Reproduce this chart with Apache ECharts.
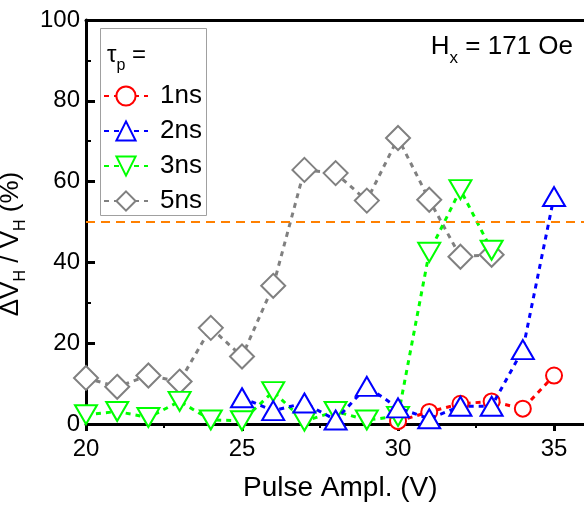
<!DOCTYPE html>
<html>
<head>
<meta charset="utf-8">
<script src="https://cdn.jsdelivr.net/npm/echarts@6/dist/echarts.min.js"></script>
<style>
  html, body { margin: 0; padding: 0; background: #fff; }
  #chart { width: 584px; height: 507px; }
</style>
</head>
<body>
<div id="chart"></div>
<script>
// data: [pulse amplitude (V), dV_H / V_H (%)]
const pulse1ns = [[30, 0.7], [31, 3], [32, 5], [33, 5.6], [34, 3.8], [35, 12]];
const pulse2ns = [[25, 6.5], [26, 3.3], [27, 5.2], [28, 1], [29, 9.3], [30, 4], [31, 1.3], [32, 4.4], [33, 4.4], [34, 18.4], [35, 56.3]];
const pulse3ns = [[20, 2.3], [21, 3.1], [22, 1.6], [23, 5.6], [24, 1], [25, 0.8], [26, 8], [27, 0.7], [28, 3.1], [29, 1], [30, 1.9], [31, 42.5], [32, 58], [33, 43]];
const pulse5ns = [[20, 11.4], [21, 9.2], [22, 12], [23, 10.5], [24, 23.8], [25, 16.7], [26, 34.2], [27, 62.9], [28, 62.1], [29, 55.3], [30, 70.8], [31, 55.5], [32, 41.4], [33, 41.9]];
const thresholdLevel = 50;
const legendNames = ['1ns', '2ns', '3ns', '5ns'];

const font = 'Liberation Sans, Arial, sans-serif';
function subStyle(big, small, drop) {
    return {
        a: { fontSize: big, fontFamily: font, fontWeight: 'normal', color: '#000', lineHeight: big + 2, verticalAlign: 'top' },
        s: { fontSize: small, fontFamily: font, fontWeight: 'normal', color: '#000', lineHeight: small, padding: [drop, 0, 0, 0], verticalAlign: 'top' }
    };
}

function makeSeries(name, data, color, symbol, size, z, rotate) {
    return {
        name: name,
        type: 'line',
        data: data,
        z: z,
        symbol: symbol,
        symbolSize: size,
        symbolRotate: rotate || 0,
        showAllSymbol: true,
        lineStyle: { color: color, width: 3, type: [5, 5] },
        itemStyle: { color: color, borderColor: color, borderWidth: 2 },
        emphasis: { disabled: true }
    };
}

const chart = echarts.init(document.getElementById('chart'));

const s5 = makeSeries('5ns', pulse5ns, '#808080', 'emptyDiamond', 24, 2);
s5.markLine = {
    silent: true,
    symbol: 'none',
    label: { show: false },
    lineStyle: { color: '#ff8000', width: 2, type: [9, 6] },
    data: [{ yAxis: thresholdLevel }]
};

const axisFont = { fontFamily: font, color: '#000' };
// x range runs past the right edge of the picture, so the frame is open there
const xMin = 20, xMax = 36.3;

const option = {
    animation: false,
    // legend frame (drawn separately so it ends right under the last item)
    graphic: [{
        type: 'rect',
        z: 1,
        shape: { x: 100.5, y: 28.5, width: 106, height: 187 },
        style: { fill: '#fff', stroke: '#a0a0a0', lineWidth: 1 }
    }],
    title: [
        {
            text: '{a|H}{s|x}{a| = 171 Oe}',
            right: 6, top: 29,
            textStyle: { rich: subStyle(26, 17, 16) }
        },
        {
            text: '{a|τ}{s|p}{a| =}',
            left: 102, top: 38,
            textStyle: { rich: subStyle(24, 16, 15) }
        }
    ],
    legend: {
        data: legendNames,
        orient: 'vertical',
        left: 100, top: 28,
        padding: [55, 4, 6, 3],
        itemGap: 9,
        itemWidth: 44,
        itemHeight: 24,
        textStyle: Object.assign({ fontSize: 26, padding: [0, 0, 0, 7] }, axisFont)
    },
    grid: { left: 86, right: -10.6, top: 20, bottom: 83, containLabel: false, outerBoundsMode: 'none' },
    xAxis: [
        {
            type: 'value',
            min: xMin, max: xMax, interval: 5,
            name: 'Pulse Ampl. (V)',
            nameLocation: 'middle',
            nameGap: 50,
            nameTextStyle: Object.assign({ fontSize: 28 }, axisFont),
            axisLine: { lineStyle: { color: '#000', width: 3 } },
            axisTick: { inside: false, length: 7, lineStyle: { color: '#000', width: 3 } },
            minorTick: { show: true, splitNumber: 2, length: 4, lineStyle: { color: '#000', width: 2 } },
            axisLabel: Object.assign({
                fontSize: 24, margin: 13, showMaxLabel: false,
                formatter: v => (v % 5 === 0 ? String(v) : '')
            }, axisFont),
            splitLine: { show: false }
        },
        {
            // top frame line
            type: 'value',
            position: 'top',
            min: xMin, max: xMax,
            axisLine: { onZero: false, lineStyle: { color: '#000', width: 3 } },
            axisTick: { show: false },
            axisLabel: { show: false },
            splitLine: { show: false }
        }
    ],
    yAxis: {
        type: 'value',
        min: 0, max: 100, interval: 20,
        name: '{a|ΔV}{s|H}{a| / V}{s|H}{a| (%)}',
        nameLocation: 'middle',
        nameGap: 46,
        nameTextStyle: { rich: subStyle(26, 16, 15), padding: [0, 44, 0, 0] },
        axisLine: { lineStyle: { color: '#000', width: 3 } },
        axisTick: { inside: true, length: 9, lineStyle: { color: '#000', width: 3 } },
        minorTick: { show: true, splitNumber: 2, length: 5, lineStyle: { color: '#000', width: 2 } },
        axisLabel: Object.assign({ fontSize: 24, margin: 6 }, axisFont),
        splitLine: { show: false }
    },
    series: [
        s5,
        makeSeries('1ns', pulse1ns, '#ff0000', 'emptyCircle', 16, 3),
        makeSeries('3ns', pulse3ns, '#00ff00', 'emptyTriangle', [22, 19], 4, 180),
        makeSeries('2ns', pulse2ns, '#0000ff', 'emptyTriangle', [22, 19], 5)
    ]
};

chart.setOption(option);
</script>
</body>
</html>
